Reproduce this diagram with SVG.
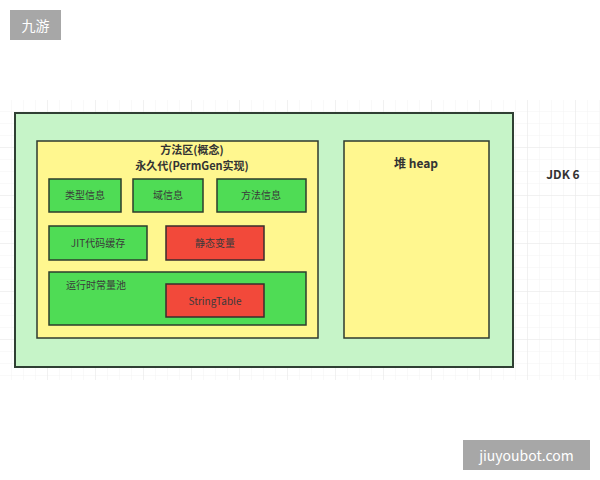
<svg xmlns="http://www.w3.org/2000/svg" width="600" height="480" viewBox="0 0 600 480">
<defs>
<pattern id="minor" width="12" height="12" patternUnits="userSpaceOnUse" x="0" y="100">
<path d="M12 0 V12 M0 12 H12" fill="none" stroke="#f3f3f3" stroke-width="1"/>
</pattern>
<pattern id="major" width="48" height="48" patternUnits="userSpaceOnUse" x="0" y="100">
<path d="M48 0 V48 M0 48 H48" fill="none" stroke="#e8e8e8" stroke-width="1"/>
</pattern>
</defs>
<style>
.lbl{font-family:"Noto Sans CJK SC","Liberation Sans",sans-serif;font-size:10px;fill:#3a3a3a;text-anchor:middle}
.ttl{font-family:"Noto Sans CJK SC","Liberation Sans",sans-serif;font-size:11px;font-weight:bold;fill:#333;text-anchor:middle}
.big{font-size:12px}
.outer{fill:#c6f4c8;stroke:#2f3f33;stroke-width:2}
.yel{fill:#fff78f;stroke:#2f3a2f;stroke-width:1.5}
.grn{fill:#4fdc55;stroke:#2d3d2d;stroke-width:1.5}
.red{fill:#f2493a;stroke:#3a2d2d;stroke-width:1.5}
.wm{fill:#a7a7a7}
.wmt{font-family:"Noto Sans CJK SC","Liberation Sans",sans-serif;fill:#ffffff;font-size:14px}
</style>
<rect x="0" y="0" width="600" height="480" fill="#ffffff"/>
<rect x="0" y="100" width="600" height="280" fill="url(#minor)"/>
<rect x="0" y="100" width="600" height="280" fill="url(#major)"/>
<g id="jvm"><rect class="outer" x="15" y="113" width="498" height="254"/></g>
<g id="method-area">
<rect class="yel" x="37" y="141" width="281" height="197"/>
<text class="ttl" x="192" y="154">方法区(概念)</text>
<text class="ttl" x="192" y="170">永久代(PermGen实现)</text>
</g>
<g id="type-info"><rect class="grn" x="49" y="179" width="72" height="33"/><text class="lbl" x="85" y="199">类型信息</text></g>
<g id="field-info"><rect class="grn" x="133" y="179" width="70" height="33"/><text class="lbl" x="168" y="199">域信息</text></g>
<g id="method-info"><rect class="grn" x="217" y="179" width="89" height="33"/><text class="lbl" x="261" y="199">方法信息</text></g>
<g id="jit-cache"><rect class="grn" x="49" y="226" width="98" height="34"/><text class="lbl" x="98" y="247">JIT代码缓存</text></g>
<g id="static-vars"><rect class="red" x="166" y="226" width="98" height="34"/><text class="lbl" x="215" y="247">静态变量</text></g>
<g id="runtime-pool"><rect class="grn" x="49" y="272" width="257" height="53"/><text class="lbl" x="96" y="289">运行时常量池</text></g>
<g id="string-table"><rect class="red" x="166" y="284" width="98" height="33"/><text class="lbl" x="215" y="305">StringTable</text></g>
<g id="heap"><rect class="yel" x="344" y="141" width="145" height="197"/><text class="ttl big" x="416" y="168">堆 heap</text></g>
<g id="jdk-label"><text class="ttl big" x="563" y="179">JDK 6</text></g>
<g id="connectors"></g>
<rect class="wm" x="10" y="10" width="51" height="30"/>
<text class="wmt" x="35.5" y="31" text-anchor="middle">九游</text>
<rect class="wm" x="463" y="440" width="127" height="30"/>
<text class="wmt" x="526.5" y="461" text-anchor="middle">jiuyoubot.com</text>
</svg>
